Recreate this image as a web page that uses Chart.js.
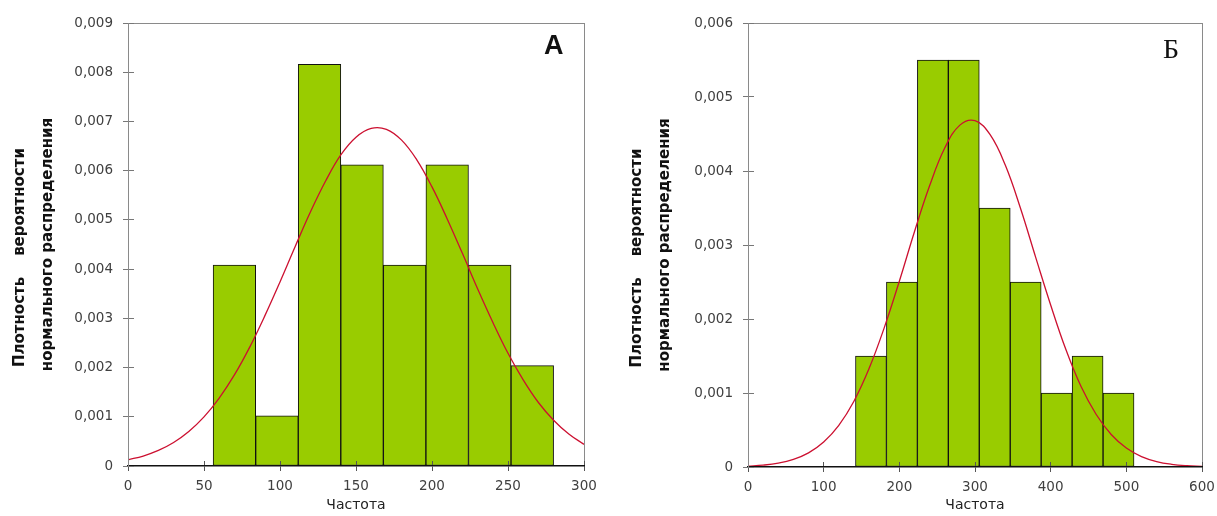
<!DOCTYPE html>
<html><head><meta charset="utf-8">
<script src="https://cdn.jsdelivr.net/npm/chart.js@4.4.1/dist/chart.umd.min.js"></script>
<style>
html,body{margin:0;padding:0;background:#fff;}
body{width:1217px;height:516px;position:relative;overflow:hidden;}
.wrap{position:absolute;top:0;height:516px;}
canvas{display:block;}
.tag{position:absolute;color:#111;white-space:nowrap;}
</style></head><body>
<div class="wrap" style="left:0;width:604px"><canvas id="cA" width="604" height="516"></canvas></div>
<div class="wrap" style="left:608px;width:614px"><canvas id="cB" width="614" height="516"></canvas></div>
<div class="tag" style="left:544px;top:32px;font:bold 27px/27px 'Liberation Sans',Arial,sans-serif;">А</div>
<div class="tag" style="left:1163px;top:35px;font:normal 28px/28px 'Liberation Serif','Times New Roman',serif;">Б</div>
<script>
// ---------- Chart A ----------
const binCentersA = [70, 98, 126, 154, 182, 210, 238, 266];
const densityA = [0.00408, 0.00102, 0.00816, 0.00612, 0.00408, 0.00612, 0.00408, 0.00204];
const curveXA = [0,10,20,30,40,50,60,70,80,90,100,110,120,130,140,150,160,170,180,190,200,210,220,230,240,250,260,270,280,290,300];
const curveYA = [0.000126,0.000203,0.000316,0.000477,0.000700,0.000997,0.00138,0.00185,0.00241,0.00305,0.00374,0.00446,0.00516,0.00579,0.00632,0.00668,0.00686,0.00684,0.00662,0.00622,0.00567,0.00502,0.00432,0.00360,0.00292,0.00229,0.00175,0.00129,0.000931,0.000650,0.000440];
const xTicksA = ['0','50','100','150','200','250','300'];
const yTicksA = ['0','0,001','0,002','0,003','0,004','0,005','0,006','0,007','0,008','0,009'];

// ---------- Chart Б ----------
const binCentersB = [162.5, 203.4, 244.3, 285.2, 326.1, 367.0, 407.9, 448.8, 489.7];
const densityB = [0.0015, 0.0025, 0.0055, 0.0055, 0.0035, 0.0025, 0.0010, 0.0015, 0.0010];
const curveXB = [0,20,40,60,80,100,120,140,160,180,200,220,240,260,280,300,320,340,360,380,400,420,440,460,480,500,520,540,560,580,600];
const curveYB = [0.0000114,0.000025,0.000052,0.000103,0.000191,0.000338,0.000563,0.000889,0.00133,0.00188,0.00251,0.00318,0.00380,0.00431,0.00462,0.00468,0.00449,0.00408,0.00350,0.00284,0.00219,0.00159,0.00109,0.000713,0.000439,0.000256,0.000141,0.0000736,0.0000363,0.000017,0.0000075];
const xTicksB = ['0','100','200','300','400','500','600'];
const yTicksB = ['0','0,001','0,002','0,003','0,004','0,005','0,006'];

const yTitleLines = ['Плотность    вероятности     ', 'нормального распределения'];
const xTitle = 'Частота';

const TICK_FONT = {family: "'DejaVu Sans', Verdana, sans-serif", size: 13.5};

function makeChart(id, o) {
  const bars = o.centers.map((c, i) => ({x: c, y: o.dens[i]}));
  const curve = o.cx.map((x, i) => ({x: x, y: o.cy[i]}));
  return new Chart(document.getElementById(id), {
    type: 'bar',
    data: {
      datasets: [
        {type: 'line', data: curve, order: 0, borderColor: '#cc1030', borderWidth: 1.3,
         pointRadius: 0, fill: false, tension: 0.4},
        {type: 'bar', data: bars, order: 1, backgroundColor: '#99cc00', borderColor: '#111',
         borderWidth: 1, borderSkipped: false, barPercentage: 1, categoryPercentage: 1, grouped: false}
      ]
    },
    options: {
      responsive: false, animation: false, devicePixelRatio: 1,
      layout: {padding: {top: 23, right: o.padRight, left: 0, bottom: 0}},
      plugins: {legend: {display: false}, tooltip: {enabled: false}},
      scales: {
        x: {
          type: 'linear', position: 'bottom', min: 0, max: o.xMax, offset: false,
          ticks: {stepSize: o.xStep, autoSkip: false, maxRotation: 0, padding: 7, color: '#404040',
                  font: TICK_FONT, callback: (v, i) => o.xTicks[i], z: 1},
          grid: {display: true, offset: false, drawOnChartArea: true, drawTicks: true, tickLength: 5,
                 color: '#555', tickColor: '#555', lineWidth: 1, z: 1},
          border: {display: true, color: '#111', width: 1.5, z: 1, dash: [5, 10000],
                   dashOffset: (ctx) => { const a = ctx.chart.chartArea; return a ? 10010 - (a.bottom - a.top) : 0; }},
          title: {display: true, text: xTitle, color: '#222',
                  font: {family: "'DejaVu Sans', Verdana, sans-serif", size: 14}, padding: {top: 0, bottom: 2}},
          afterFit: (s) => { s.height = o.xH; }
        },
        y: {
          type: 'linear', position: 'left', min: 0, max: o.yMax,
          ticks: {stepSize: 0.001, autoSkip: false, padding: 10, color: '#404040', font: TICK_FONT,
                  callback: (v, i) => o.yTicks[i], z: 1},
          grid: {display: true, drawOnChartArea: true, drawTicks: true, tickLength: 5,
                 color: '#777', tickColor: '#777', lineWidth: 1, z: 1},
          border: {display: true, color: '#8a8a8a', width: 1, z: 1, dash: [5, 10000], dashOffset: 0},
          title: {display: true, text: yTitleLines, color: '#111', align: 'center',
                  font: {family: "'DejaVu Sans', Verdana, sans-serif", size: 15, weight: 'bold', lineHeight: '28px'},
                  padding: {top: o.titlePad, bottom: 0}},
          afterFit: (s) => { s.width = o.yW; }
        },
        xT: {type: 'linear', position: 'top', display: true, ticks: {display: false},
             grid: {display: false}, border: {display: true, color: '#8a8a8a', width: 1},
             afterFit: (s) => { s.height = 0; }},
        yR: {type: 'linear', position: 'right', display: true, ticks: {display: false},
             grid: {display: false}, border: {display: true, color: '#8a8a8a', width: 1},
             afterFit: (s) => { s.width = 0; }}
      }
    }
  });
}

makeChart('cA', {centers: binCentersA, dens: densityA, cx: curveXA, cy: curveYA,
  xMax: 300, xStep: 50, yMax: 0.009, xTicks: xTicksA, yTicks: yTicksA,
  padRight: 20, xH: 50, yW: 128, titlePad: 6});
makeChart('cB', {centers: binCentersB, dens: densityB, cx: curveXB, cy: curveYB,
  xMax: 600, xStep: 100, yMax: 0.006, xTicks: xTicksB, yTicks: yTicksB,
  padRight: 20, xH: 49, yW: 140, titlePad: 15});
</script>
</body></html>
